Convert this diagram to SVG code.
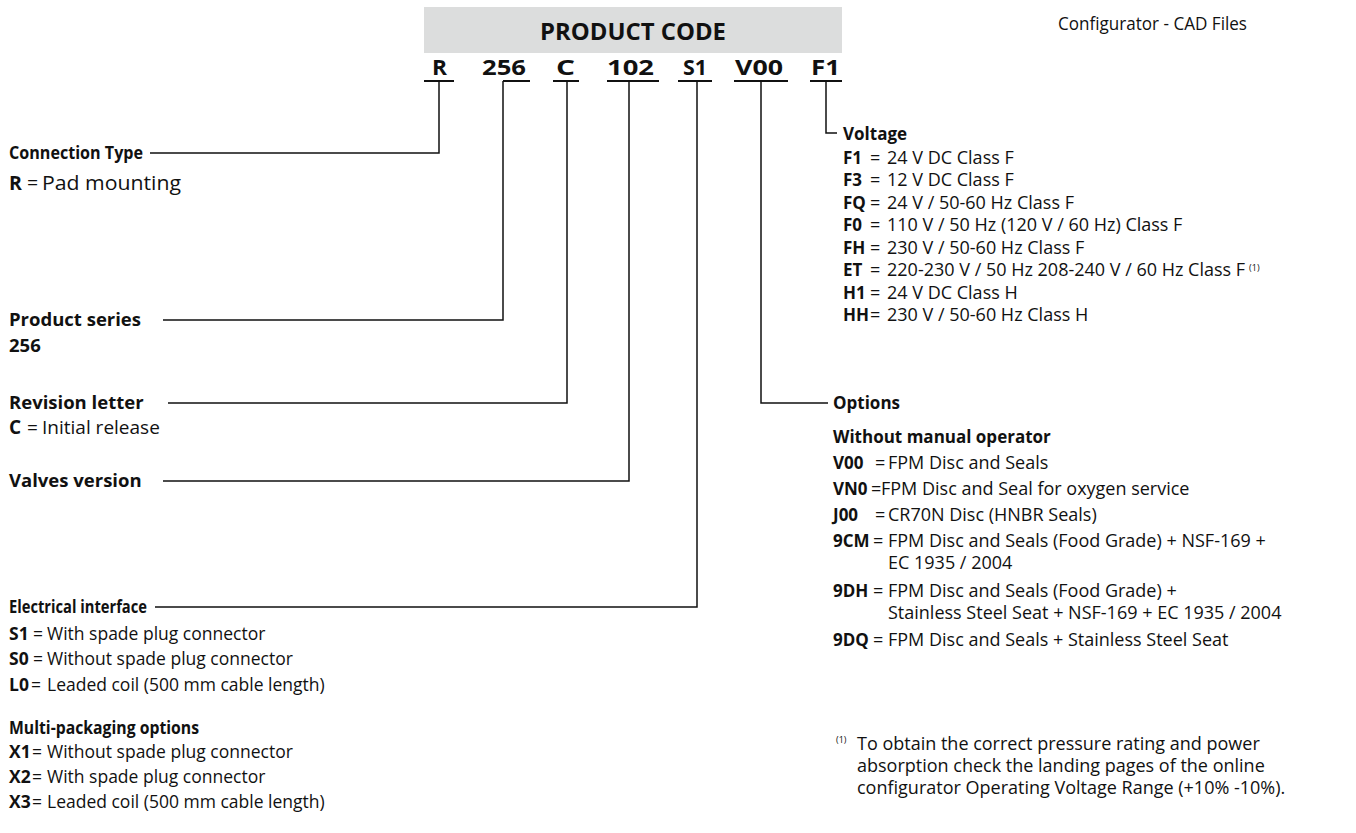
<svg xmlns="http://www.w3.org/2000/svg" width="1356" height="833" viewBox="0 0 1356 833">
<style>
.t{font-family:'Open Sans','Noto Sans',sans-serif;font-size:18px;fill:#111}
.l{font-size:17.5px}
.b{font-weight:bold}
.c{font-size:17px}
.h{font-size:18.5px}
.ln{fill:none;stroke:#111;stroke-width:1.5}
.ul{stroke:#111;stroke-width:2}
.sup{font-size:9px}
</style>
<rect width="1356" height="833" fill="#fff"/>
<text class="t" x="1058" y="30" textLength="189" lengthAdjust="spacingAndGlyphs">Configurator - CAD Files</text>
<g id="header">
<rect x="424" y="7" width="418" height="46" fill="#dcdddd"/>
<text class="t b" x="540" y="40" style="font-size:23px" textLength="186" lengthAdjust="spacingAndGlyphs">PRODUCT CODE</text>
<g class="t b" style="font-size:22px">
<text x="432" y="75" textLength="15" lengthAdjust="spacingAndGlyphs">R</text>
<text x="482" y="75" textLength="44" lengthAdjust="spacingAndGlyphs">256</text>
<text x="556" y="75" textLength="19" lengthAdjust="spacingAndGlyphs">C</text>
<text x="607" y="75" textLength="47" lengthAdjust="spacingAndGlyphs">102</text>
<text x="683" y="75" textLength="24" lengthAdjust="spacingAndGlyphs">S1</text>
<text x="735" y="75" textLength="48" lengthAdjust="spacingAndGlyphs">V00</text>
<text x="811" y="75" textLength="29" lengthAdjust="spacingAndGlyphs">F1</text>
</g>
<g class="ul">
<line x1="424" y1="81" x2="454" y2="81"/>
<line x1="503" y1="81" x2="530" y2="81"/>
<line x1="553" y1="81" x2="579" y2="81"/>
<line x1="607" y1="81" x2="659" y2="81"/>
<line x1="678" y1="81" x2="712" y2="81"/>
<line x1="734" y1="81" x2="788" y2="81"/>
<line x1="810" y1="81" x2="842" y2="81"/>
</g>
</g>
<g id="connectors" class="ln">
<path d="M439 81V153H150"/>
<path d="M503 81V320H163"/>
<path d="M567 81V403H168"/>
<path d="M629 81V481H163"/>
<path d="M697 81V607H155"/>
<path d="M761 81V403H828"/>
<path d="M826 81V133H837"/>
</g>
<g id="connection-type" class="t">
<text class="b c" x="9" y="159" textLength="134" lengthAdjust="spacingAndGlyphs">Connection Type</text>
<text y="190" style="font-size:19.5px"><tspan class="b" x="9">R</tspan><tspan x="27">=</tspan><tspan x="42" textLength="139" lengthAdjust="spacingAndGlyphs">Pad mounting</tspan></text>
</g>
<g id="product-series" class="t h">
<text class="b" x="9" y="326">Product series</text>
<text class="b" x="9" y="352">256</text>
</g>
<g id="revision-letter" class="t">
<text class="b h" x="9" y="409">Revision letter</text>
<text y="434" style="font-size:19px"><tspan class="b" x="9">C</tspan><tspan x="27">=</tspan><tspan x="42">Initial release</tspan></text>
</g>
<g id="valves-version" class="t h">
<text class="b" x="9" y="487">Valves version</text>
</g>
<g id="electrical-interface" class="t l">
<text class="b c" x="9" y="613" textLength="138" lengthAdjust="spacingAndGlyphs">Electrical interface</text>
<text y="640"><tspan class="b" x="9">S1</tspan><tspan x="33">=</tspan><tspan x="47">With spade plug connector</tspan></text>
<text y="665"><tspan class="b" x="9">S0</tspan><tspan x="33">=</tspan><tspan x="47">Without spade plug connector</tspan></text>
<text y="691"><tspan class="b" x="9">L0</tspan><tspan x="31">=</tspan><tspan x="47">Leaded coil (500 mm cable length)</tspan></text>
</g>
<g id="multi-packaging" class="t l">
<text class="b c" x="9" y="734" textLength="190" lengthAdjust="spacingAndGlyphs">Multi-packaging options</text>
<text y="758"><tspan class="b" x="9">X1</tspan><tspan x="32">=</tspan><tspan x="47">Without spade plug connector</tspan></text>
<text y="783"><tspan class="b" x="9">X2</tspan><tspan x="32">=</tspan><tspan x="47">With spade plug connector</tspan></text>
<text y="808"><tspan class="b" x="9">X3</tspan><tspan x="32">=</tspan><tspan x="47">Leaded coil (500 mm cable length)</tspan></text>
</g>
<g id="voltage" class="t">
<text class="b c" x="843" y="140">Voltage</text>
<text y="164"><tspan class="b c" x="843">F1</tspan><tspan x="870">=</tspan><tspan x="887">24 V DC Class F</tspan></text>
<text y="186"><tspan class="b c" x="843">F3</tspan><tspan x="870">=</tspan><tspan x="887">12 V DC Class F</tspan></text>
<text y="209"><tspan class="b c" x="843">FQ</tspan><tspan x="870">=</tspan><tspan x="887">24 V / 50-60 Hz Class F</tspan></text>
<text y="231"><tspan class="b c" x="843">F0</tspan><tspan x="870">=</tspan><tspan x="887">110 V / 50 Hz (120 V / 60 Hz) Class F</tspan></text>
<text y="254"><tspan class="b c" x="843">FH</tspan><tspan x="870">=</tspan><tspan x="887">230 V / 50-60 Hz Class F</tspan></text>
<text y="276"><tspan class="b c" x="843">ET</tspan><tspan x="870">=</tspan><tspan x="887">220-230 V / 50 Hz 208-240 V / 60 Hz Class F</tspan><tspan class="sup" dx="4" dy="-5">(1)</tspan></text>
<text y="299"><tspan class="b c" x="843">H1</tspan><tspan x="870">=</tspan><tspan x="887">24 V DC Class H</tspan></text>
<text y="321"><tspan class="b c" x="843">HH</tspan><tspan x="870">=</tspan><tspan x="887">230 V / 50-60 Hz Class H</tspan></text>
</g>
<g id="options" class="t">
<text class="b c" x="833" y="409">Options</text>
<text class="b c" x="833" y="443">Without manual operator</text>
<text y="469"><tspan class="b c" x="833">V00</tspan><tspan x="875">=</tspan><tspan x="888">FPM Disc and Seals</tspan></text>
<text y="495"><tspan class="b c" x="833">VN0</tspan><tspan x="871">=</tspan><tspan x="881">FPM Disc and Seal for oxygen service</tspan></text>
<text y="521"><tspan class="b c" x="833">J00</tspan><tspan x="875">=</tspan><tspan x="888">CR70N Disc (HNBR Seals)</tspan></text>
<text y="547"><tspan class="b c" x="833">9CM</tspan><tspan x="873">=</tspan><tspan x="888">FPM Disc and Seals (Food Grade) + NSF-169 +</tspan></text>
<text x="888" y="569">EC 1935 / 2004</text>
<text y="597"><tspan class="b c" x="833">9DH</tspan><tspan x="873">=</tspan><tspan x="888">FPM Disc and Seals (Food Grade) +</tspan></text>
<text x="888" y="619">Stainless Steel Seat + NSF-169 + EC 1935 / 2004</text>
<text y="646"><tspan class="b c" x="833">9DQ</tspan><tspan x="873">=</tspan><tspan x="888">FPM Disc and Seals + Stainless Steel Seat</tspan></text>
</g>
<g id="footnote" class="t">
<text class="sup" x="836" y="743">(1)</text>
<text x="857" y="750">To obtain the correct pressure rating and power</text>
<text x="857" y="772">absorption check the landing pages of the online</text>
<text x="857" y="794">configurator Operating Voltage Range (+10% -10%).</text>
</g>
</svg>
